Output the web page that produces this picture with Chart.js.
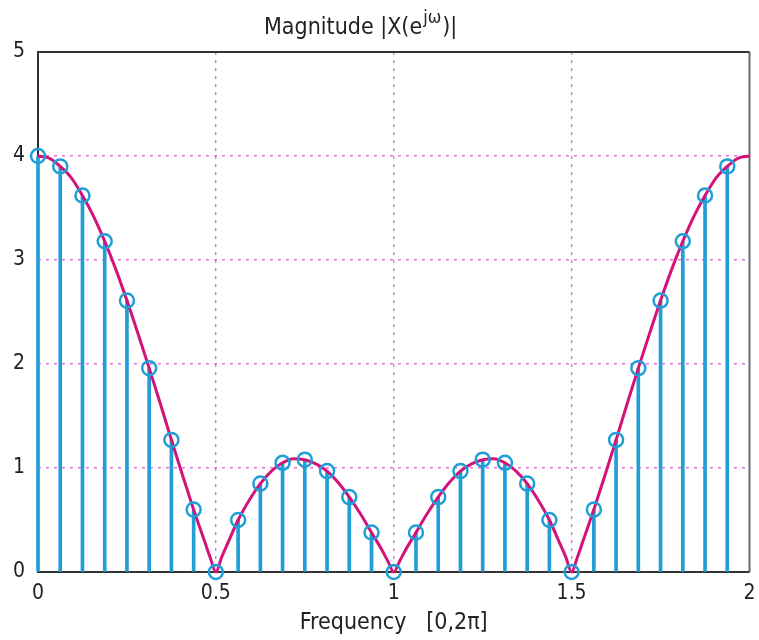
<!DOCTYPE html>
<html>
<head>
<meta charset="utf-8">
<script src="https://cdn.jsdelivr.net/npm/chart.js@4/dist/chart.umd.min.js"></script>
<style>
  html, body { margin: 0; padding: 0; background: #fff; overflow: hidden; }
  canvas { display: block; }
</style>
</head>
<body>
<canvas id="mag" width="759" height="640"></canvas>
<script>
// sample points (stems + circles), frequency in units of pi
var stemX = [0, 0.0625, 0.125, 0.1875, 0.25, 0.3125, 0.375, 0.4375,
             0.5, 0.5625, 0.625, 0.6875, 0.75, 0.8125, 0.875, 0.9375,
             1, 1.0625, 1.125, 1.1875, 1.25, 1.3125, 1.375, 1.4375,
             1.5, 1.5625, 1.625, 1.6875, 1.75, 1.8125, 1.875, 1.9375];
var stemY = [4, 3.90, 3.62, 3.18, 2.61, 1.96, 1.27, 0.60,
             0, 0.50, 0.85, 1.05, 1.08, 0.97, 0.72, 0.38,
             0, 0.38, 0.72, 0.97, 1.08, 1.05, 0.85, 0.50,
             0, 0.60, 1.27, 1.96, 2.61, 3.18, 3.62, 3.90];

// continuous magnitude curve
var curveX = [0, 0.03125, 0.0625, 0.09375, 0.125, 0.15625, 0.1875, 0.21875,
              0.25, 0.28125, 0.3125, 0.34375, 0.375, 0.40625, 0.4375, 0.46875, 0.484,
              0.5, 0.516, 0.53125, 0.5625, 0.59375, 0.625, 0.65625, 0.6875, 0.71875,
              0.75, 0.78125, 0.8125, 0.84375, 0.875, 0.90625, 0.9375, 0.96875, 0.984,
              1, 1.016, 1.03125, 1.0625, 1.09375, 1.125, 1.15625, 1.1875, 1.21875,
              1.25, 1.28125, 1.3125, 1.34375, 1.375, 1.40625, 1.4375, 1.46875, 1.484,
              1.5, 1.516, 1.53125, 1.5625, 1.59375, 1.625, 1.65625, 1.6875, 1.71875,
              1.75, 1.78125, 1.8125, 1.84375, 1.875, 1.90625, 1.9375, 1.96875, 2];
var curveY = [4, 3.98, 3.90, 3.79, 3.62, 3.42, 3.18, 2.91,
              2.61, 2.29, 1.96, 1.62, 1.27, 0.93, 0.60, 0.29, 0.14,
              0, 0.14, 0.26, 0.50, 0.69, 0.85, 0.97, 1.05, 1.09,
              1.08, 1.04, 0.97, 0.86, 0.72, 0.56, 0.38, 0.20, 0.10,
              0, 0.10, 0.20, 0.38, 0.56, 0.72, 0.86, 0.97, 1.04,
              1.08, 1.09, 1.05, 0.97, 0.85, 0.69, 0.50, 0.26, 0.14,
              0, 0.14, 0.29, 0.60, 0.93, 1.27, 1.62, 1.96, 2.29,
              2.61, 2.91, 3.18, 3.42, 3.62, 3.79, 3.90, 3.98, 4];

var xTicks = [0, 0.5, 1, 1.5, 2];
var yTicks = [0, 1, 2, 3, 4, 5];

var FONT = '"DejaVu Sans Condensed", "Liberation Sans", sans-serif';
var BLUE = '#1f9fd6';
var CURVE = '#d3137a';
var GRID = 'rgb(232, 110, 214)';

function pairs(xs, ys) {
  return xs.map(function (x, i) { return { x: x, y: ys[i] }; });
}

// hide grid at the frame edges, the frame is drawn by boxPlugin
function innerGrid(ctx) {
  var v = ctx.tick ? ctx.tick.value : null;
  if (v === null) return 'transparent';
  var s = ctx.scale;
  return (v === s.min || v === s.max) ? 'transparent' : GRID;
}

var boxPlugin = {
  id: 'box',
  beforeDatasetsDraw: function (chart) {
    var a = chart.chartArea, c = chart.ctx;
    c.save();
    c.lineWidth = 2;
    c.strokeStyle = '#6a6a6a';
    c.beginPath();
    c.moveTo(a.right, a.top);
    c.lineTo(a.right, a.bottom);
    c.stroke();
    c.strokeStyle = '#333';
    c.beginPath();
    c.moveTo(a.right, a.top);
    c.lineTo(a.left, a.top);
    c.lineTo(a.left, a.bottom);
    c.lineTo(a.right, a.bottom);
    c.stroke();
    c.restore();
  }
};

// title with superscript: Magnitude |X(e^jω)|
var titlePlugin = {
  id: 'supTitle',
  afterDraw: function (chart) {
    var c = chart.ctx;
    c.save();
    c.fillStyle = '#222';
    c.textBaseline = 'alphabetic';
    var base = 34, x = 264;
    c.font = '23px ' + FONT;
    c.fillText('Magnitude |X(e', x, base);
    x += c.measureText('Magnitude |X(e').width;
    c.font = '18px ' + FONT;
    c.fillText('jω', x + 1, base - 11);
    x += c.measureText('jω').width + 2;
    c.font = '23px ' + FONT;
    c.fillText(')|', x, base);
    c.restore();
  }
};

new Chart(document.getElementById('mag'), {
  type: 'line',
  data: {
    datasets: [
      {
        label: 'curve',
        data: pairs(curveX, curveY),
        borderColor: CURVE,
        borderWidth: 3,
        pointRadius: 0,
        cubicInterpolationMode: 'monotone',
        clip: false,
        order: 2
      },
      {
        type: 'scatter',
        label: 'samples',
        data: pairs(stemX, stemY),
        showLine: false,
        pointRadius: 7,
        pointBorderWidth: 2.5,
        pointBorderColor: BLUE,
        pointBackgroundColor: 'transparent',
        clip: false,
        order: 1
      },
      {
        type: 'bar',
        label: 'stems',
        data: pairs(stemX, stemY),
        backgroundColor: BLUE,
        barThickness: 3,
        borderWidth: 0,
        clip: false,
        order: 3
      }
    ]
  },
  options: {
    responsive: false,
    animation: false,
    layout: { padding: { top: 52, right: 6, left: 0, bottom: 0 } },
    plugins: {
      legend: { display: false },
      tooltip: { enabled: false },
      title: { display: false }
    },
    scales: {
      x: {
        type: 'linear',
        min: 0, max: 2,
        offset: false,
        afterBuildTicks: function (s) { s.ticks = xTicks.map(function (v) { return { value: v }; }); },
        afterFit: function (s) { s.height = 68; s.paddingLeft = 0; s.paddingRight = 0; },
        ticks: {
          color: '#222', padding: 9, maxRotation: 0,
          font: { family: FONT, size: 21 },
          callback: function (v) { return String(v); }
        },
        grid: { color: innerGrid, lineWidth: 1.4, drawTicks: false, offset: false },
        border: { display: false, dash: [3, 5] },
        title: {
          display: true,
          text: 'Frequency   [0,2π]',
          color: '#222',
          font: { family: FONT, size: 23 },
          padding: { top: 0, bottom: 3 }
        }
      },
      y: {
        type: 'linear',
        min: 0, max: 5,
        afterBuildTicks: function (s) { s.ticks = yTicks.map(function (v) { return { value: v }; }); },
        afterFit: function (s) { s.width = 38; s.paddingTop = 0; s.paddingBottom = 0; },
        ticks: {
          color: '#222', padding: 13,
          font: { family: FONT, size: 21 },
          callback: function (v) { return String(v); }
        },
        grid: { color: innerGrid, lineWidth: 1.4, drawTicks: false },
        border: { display: false, dash: [3, 5] }
      }
    }
  },
  plugins: [boxPlugin, titlePlugin]
});
</script>
</body>
</html>
